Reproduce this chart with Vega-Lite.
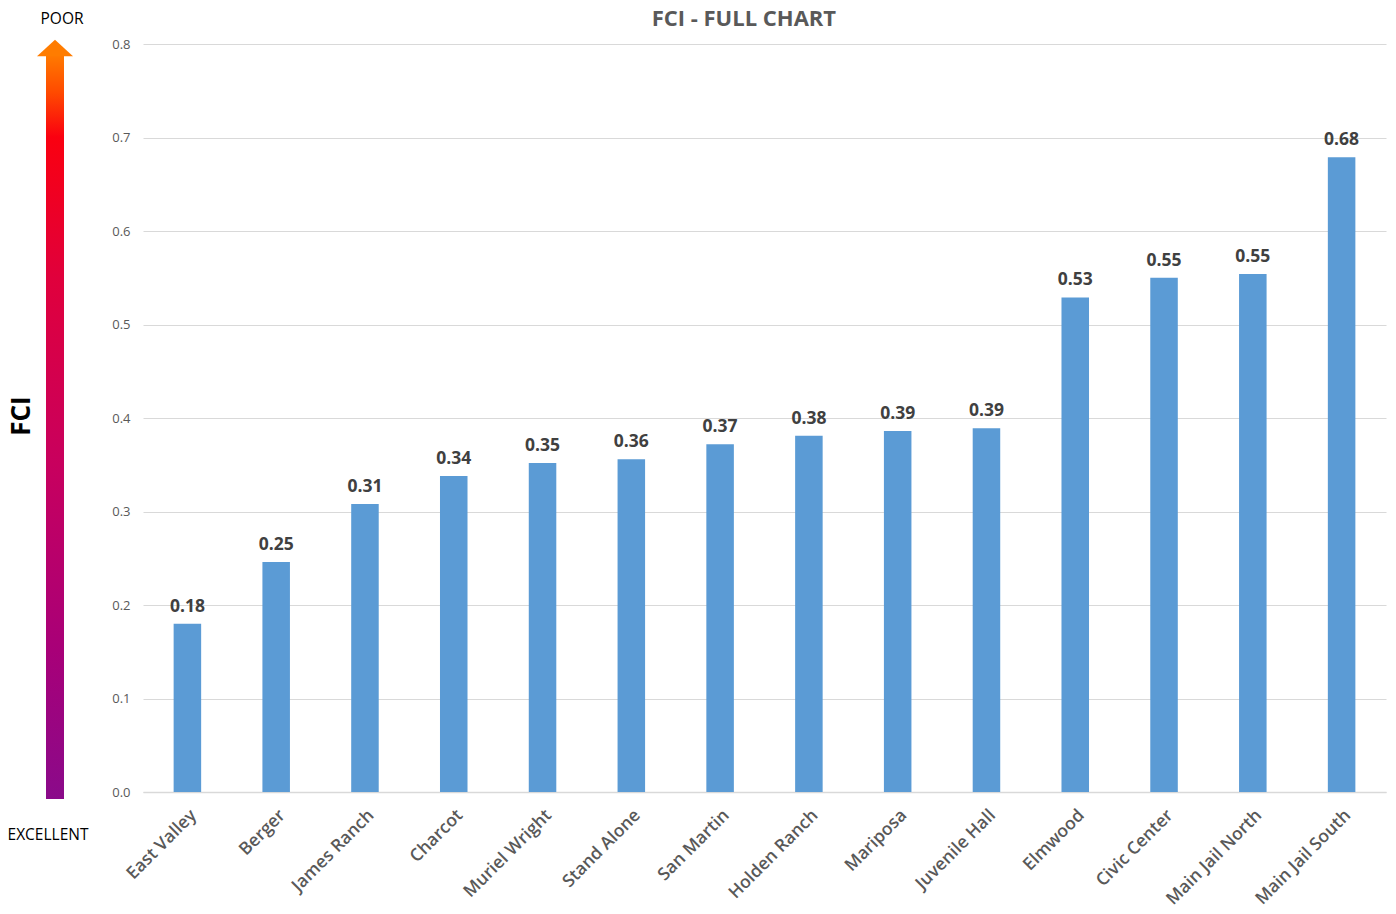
{
  "$schema": "https://vega.github.io/schema/vega-lite/v6.json",
  "description": "FCI - full chart",
  "padding": {"left": 0, "top": 8, "right": 10, "bottom": 5},
  "background": "white",
  "spacing": 33,
  "bounds": "flush",
  "config": {
    "font": "Open Sans",
    "view": {"stroke": null}
  },
  "datasets": {
    "fci": [
      {"site": "East Valley", "fci": 0.18},
      {"site": "Berger", "fci": 0.246},
      {"site": "James Ranch", "fci": 0.308},
      {"site": "Charcot", "fci": 0.338},
      {"site": "Muriel Wright", "fci": 0.352},
      {"site": "Stand Alone", "fci": 0.356},
      {"site": "San Martin", "fci": 0.372},
      {"site": "Holden Ranch", "fci": 0.381},
      {"site": "Mariposa", "fci": 0.386},
      {"site": "Juvenile Hall", "fci": 0.389},
      {"site": "Elmwood", "fci": 0.529},
      {"site": "Civic Center", "fci": 0.55},
      {"site": "Main Jail North", "fci": 0.554},
      {"site": "Main Jail South", "fci": 0.679}
    ],
    "shaft": [
      {"x": 46, "x2": 64, "y": -0.0075, "y2": 0.788}
    ],
    "head": [
      {"x": 37, "y": 0.787, "base": 0.787},
      {"x": 55, "y": 0.8045, "base": 0.787},
      {"x": 73, "y": 0.787, "base": 0.787}
    ],
    "labels": [
      {"x": 62, "y": 0.8267, "text": "POOR"},
      {"x": 48, "y": -0.046, "text": "EXCELLENT"}
    ]
  },
  "hconcat": [
    {
      "width": 110,
      "height": 748,
      "layer": [
        {
          "data": {"name": "shaft"},
          "mark": {
            "type": "rect",
            "color": {
              "gradient": "linear",
              "x1": 0, "y1": 0, "x2": 0, "y2": 1,
              "stops": [
                {"offset": 0, "color": "#ff7a00"},
                {"offset": 0.05, "color": "#ff4a00"},
                {"offset": 0.11, "color": "#fa0010"},
                {"offset": 0.3, "color": "#e0003c"},
                {"offset": 0.55, "color": "#c8005e"},
                {"offset": 0.8, "color": "#a80078"},
                {"offset": 1, "color": "#8a0a8a"}
              ]
            }
          },
          "encoding": {
            "x": {"field": "x", "type": "quantitative", "scale": {"domain": [0, 110], "nice": false}, "axis": null},
            "x2": {"field": "x2"},
            "y": {"field": "y", "type": "quantitative", "scale": {"domain": [0, 0.8], "nice": false, "zero": false}, "axis": null},
            "y2": {"field": "y2"}
          }
        },
        {
          "data": {"name": "head"},
          "mark": {"type": "area", "color": "#ff7c00", "interpolate": "linear"},
          "encoding": {
            "x": {"field": "x", "type": "quantitative", "scale": {"domain": [0, 110], "nice": false}, "axis": null},
            "y": {"field": "y", "type": "quantitative", "scale": {"domain": [0, 0.8], "nice": false, "zero": false}, "axis": null},
            "y2": {"field": "base"}
          }
        },
        {
          "data": {"name": "labels"},
          "mark": {"type": "text", "fontSize": 15.5, "color": "#000000", "baseline": "middle", "align": "center"},
          "encoding": {
            "x": {"field": "x", "type": "quantitative", "scale": {"domain": [0, 110], "nice": false}, "axis": null},
            "y": {"field": "y", "type": "quantitative", "scale": {"domain": [0, 0.8], "nice": false, "zero": false}, "axis": null},
            "text": {"field": "text"}
          }
        },
        {
          "data": {"values": [{"x": 22, "y": 0.402, "text": "FCI"}]},
          "mark": {"type": "text", "fontSize": 26, "fontWeight": "bold", "angle": 270, "color": "#000000", "baseline": "middle", "align": "center"},
          "encoding": {
            "x": {"field": "x", "type": "quantitative", "scale": {"domain": [0, 110], "nice": false}, "axis": null},
            "y": {"field": "y", "type": "quantitative", "scale": {"domain": [0, 0.8], "nice": false, "zero": false}, "axis": null},
            "text": {"field": "text"}
          }
        }
      ]
    },
    {
      "width": 1243,
      "height": 748,
      "title": {
        "text": "FCI - FULL CHART",
        "fontSize": 22,
        "fontWeight": "bold",
        "color": "#595959",
        "anchor": "middle",
        "frame": "bounds",
        "dx": -5,
        "offset": 7
      },
      "data": {"name": "fci"},
      "encoding": {
        "x": {
          "field": "site",
          "type": "nominal",
          "sort": null,
          "title": null,
          "scale": {"paddingInner": 0.69, "paddingOuter": 0.345},
          "axis": {
            "labelAngle": -45,
            "labelAlign": "right",
            "labelBaseline": "top",
            "labelFontSize": 17.5,
            "labelFontWeight": 600,
            "labelColor": "#595959",
            "labelPadding": 14,
            "ticks": false,
            "domainColor": "#d9d9d9",
            "domainWidth": 1.5
          }
        },
        "y": {
          "field": "fci",
          "type": "quantitative",
          "title": null,
          "scale": {"domain": [0, 0.8], "nice": false},
          "axis": {
            "tickCount": 8,
            "format": ".1f",
            "labelFontSize": 13,
            "labelColor": "#595959",
            "labelPadding": 13,
            "ticks": false,
            "domain": false,
            "gridColor": "#d9d9d9",
            "gridWidth": 1
          }
        }
      },
      "layer": [
        {
          "mark": {"type": "bar", "color": "#5b9bd5"}
        },
        {
          "mark": {"type": "text", "fontSize": 17.5, "fontWeight": "bold", "color": "#404040", "baseline": "bottom", "dy": -8},
          "encoding": {
            "text": {"field": "fci", "type": "quantitative", "format": ".2f"}
          }
        }
      ]
    }
  ]
}
